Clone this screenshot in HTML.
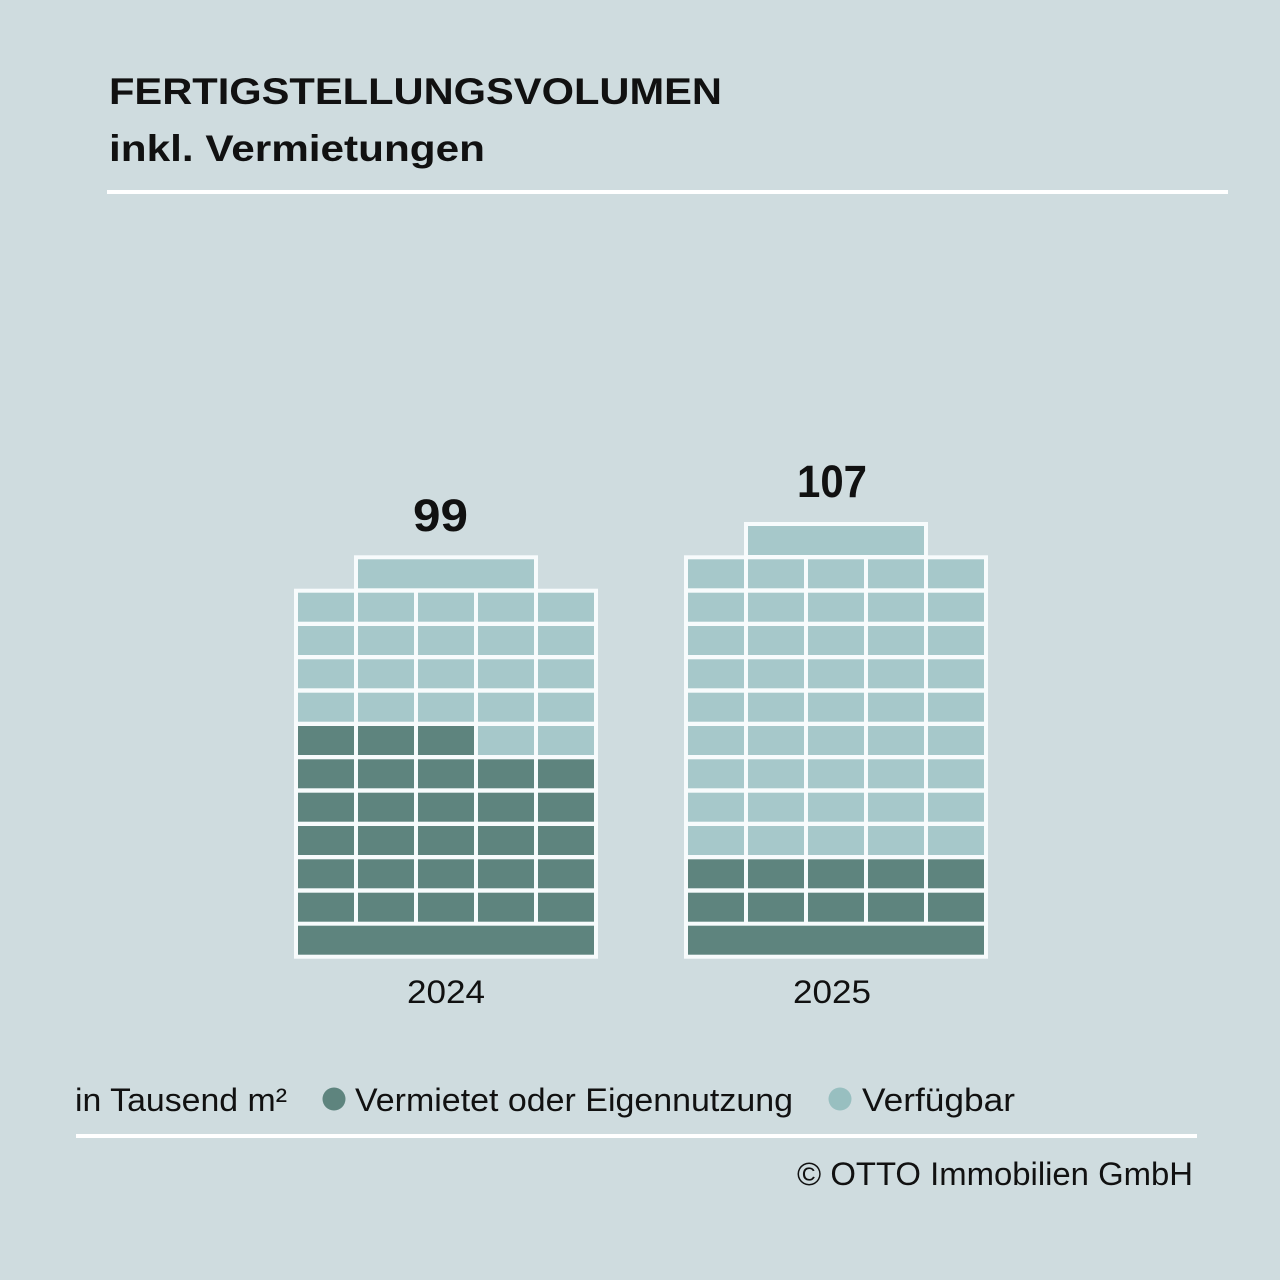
<!DOCTYPE html>
<html>
<head>
<meta charset="utf-8">
<style>
  html, body { margin: 0; padding: 0; background: #cfdcdf; }
  svg { display: block; }
  text { font-family: "Liberation Sans", "DejaVu Sans", sans-serif; fill: #111; }
</style>
</head>
<body>
<svg width="1280" height="1280" viewBox="0 0 1280 1280" xmlns="http://www.w3.org/2000/svg">
  <rect x="0" y="0" width="1280" height="1280" fill="#cfdcdf"/>

  <!-- Title -->
  <text x="109" y="104" font-size="37" font-weight="bold" textLength="613" lengthAdjust="spacingAndGlyphs">FERTIGSTELLUNGSVOLUMEN</text>
  <text x="109" y="161" font-size="37" font-weight="bold" textLength="376" lengthAdjust="spacingAndGlyphs">inkl. Vermietungen</text>
  <rect x="107" y="190" width="1121" height="4" fill="#ffffff"/>

  <!-- Building 2024 -->
  <g>
    <rect x="294" y="588.7" width="304" height="370" fill="#f7fbfc"/>
    <rect x="354" y="555.3" width="184" height="40" fill="#f7fbfc"/>
    <rect x="358" y="559.3" width="176" height="29" fill="#a6c8ca"/>
    <g fill="#a6c8ca">
      <rect x="298" y="592.7" width="56" height="29"/><rect x="358" y="592.7" width="56" height="29"/><rect x="418" y="592.7" width="56" height="29"/><rect x="478" y="592.7" width="56" height="29"/><rect x="538" y="592.7" width="56" height="29"/>
      <rect x="298" y="626" width="56" height="29"/><rect x="358" y="626" width="56" height="29"/><rect x="418" y="626" width="56" height="29"/><rect x="478" y="626" width="56" height="29"/><rect x="538" y="626" width="56" height="29"/>
      <rect x="298" y="659.3" width="56" height="29"/><rect x="358" y="659.3" width="56" height="29"/><rect x="418" y="659.3" width="56" height="29"/><rect x="478" y="659.3" width="56" height="29"/><rect x="538" y="659.3" width="56" height="29"/>
      <rect x="298" y="692.7" width="56" height="29"/><rect x="358" y="692.7" width="56" height="29"/><rect x="418" y="692.7" width="56" height="29"/><rect x="478" y="692.7" width="56" height="29"/><rect x="538" y="692.7" width="56" height="29"/>
      <rect x="478" y="726" width="56" height="29"/><rect x="538" y="726" width="56" height="29"/>
    </g>
    <g fill="#5e847e">
      <rect x="298" y="726" width="56" height="29"/><rect x="358" y="726" width="56" height="29"/><rect x="418" y="726" width="56" height="29"/>
      <rect x="298" y="759.3" width="56" height="29"/><rect x="358" y="759.3" width="56" height="29"/><rect x="418" y="759.3" width="56" height="29"/><rect x="478" y="759.3" width="56" height="29"/><rect x="538" y="759.3" width="56" height="29"/>
      <rect x="298" y="792.7" width="56" height="29"/><rect x="358" y="792.7" width="56" height="29"/><rect x="418" y="792.7" width="56" height="29"/><rect x="478" y="792.7" width="56" height="29"/><rect x="538" y="792.7" width="56" height="29"/>
      <rect x="298" y="826" width="56" height="29"/><rect x="358" y="826" width="56" height="29"/><rect x="418" y="826" width="56" height="29"/><rect x="478" y="826" width="56" height="29"/><rect x="538" y="826" width="56" height="29"/>
      <rect x="298" y="859.3" width="56" height="29"/><rect x="358" y="859.3" width="56" height="29"/><rect x="418" y="859.3" width="56" height="29"/><rect x="478" y="859.3" width="56" height="29"/><rect x="538" y="859.3" width="56" height="29"/>
      <rect x="298" y="892.7" width="56" height="29"/><rect x="358" y="892.7" width="56" height="29"/><rect x="418" y="892.7" width="56" height="29"/><rect x="478" y="892.7" width="56" height="29"/><rect x="538" y="892.7" width="56" height="29"/>
      <rect x="298" y="925.7" width="296" height="29"/>
    </g>
  </g>

  <!-- Building 2025 -->
  <g>
    <rect x="684" y="555.3" width="304" height="403.4" fill="#f7fbfc"/>
    <rect x="744" y="522" width="184" height="40" fill="#f7fbfc"/>
    <rect x="748" y="526" width="176" height="29" fill="#a6c8ca"/>
    <g fill="#a6c8ca">
      <rect x="688" y="559.3" width="56" height="29"/><rect x="748" y="559.3" width="56" height="29"/><rect x="808" y="559.3" width="56" height="29"/><rect x="868" y="559.3" width="56" height="29"/><rect x="928" y="559.3" width="56" height="29"/>
      <rect x="688" y="592.7" width="56" height="29"/><rect x="748" y="592.7" width="56" height="29"/><rect x="808" y="592.7" width="56" height="29"/><rect x="868" y="592.7" width="56" height="29"/><rect x="928" y="592.7" width="56" height="29"/>
      <rect x="688" y="626" width="56" height="29"/><rect x="748" y="626" width="56" height="29"/><rect x="808" y="626" width="56" height="29"/><rect x="868" y="626" width="56" height="29"/><rect x="928" y="626" width="56" height="29"/>
      <rect x="688" y="659.3" width="56" height="29"/><rect x="748" y="659.3" width="56" height="29"/><rect x="808" y="659.3" width="56" height="29"/><rect x="868" y="659.3" width="56" height="29"/><rect x="928" y="659.3" width="56" height="29"/>
      <rect x="688" y="692.7" width="56" height="29"/><rect x="748" y="692.7" width="56" height="29"/><rect x="808" y="692.7" width="56" height="29"/><rect x="868" y="692.7" width="56" height="29"/><rect x="928" y="692.7" width="56" height="29"/>
      <rect x="688" y="726" width="56" height="29"/><rect x="748" y="726" width="56" height="29"/><rect x="808" y="726" width="56" height="29"/><rect x="868" y="726" width="56" height="29"/><rect x="928" y="726" width="56" height="29"/>
      <rect x="688" y="759.3" width="56" height="29"/><rect x="748" y="759.3" width="56" height="29"/><rect x="808" y="759.3" width="56" height="29"/><rect x="868" y="759.3" width="56" height="29"/><rect x="928" y="759.3" width="56" height="29"/>
      <rect x="688" y="792.7" width="56" height="29"/><rect x="748" y="792.7" width="56" height="29"/><rect x="808" y="792.7" width="56" height="29"/><rect x="868" y="792.7" width="56" height="29"/><rect x="928" y="792.7" width="56" height="29"/>
      <rect x="688" y="826" width="56" height="29"/><rect x="748" y="826" width="56" height="29"/><rect x="808" y="826" width="56" height="29"/><rect x="868" y="826" width="56" height="29"/><rect x="928" y="826" width="56" height="29"/>
    </g>
    <g fill="#5e847e">
      <rect x="688" y="859.3" width="56" height="29"/><rect x="748" y="859.3" width="56" height="29"/><rect x="808" y="859.3" width="56" height="29"/><rect x="868" y="859.3" width="56" height="29"/><rect x="928" y="859.3" width="56" height="29"/>
      <rect x="688" y="892.7" width="56" height="29"/><rect x="748" y="892.7" width="56" height="29"/><rect x="808" y="892.7" width="56" height="29"/><rect x="868" y="892.7" width="56" height="29"/><rect x="928" y="892.7" width="56" height="29"/>
      <rect x="688" y="925.7" width="296" height="29"/>
    </g>
  </g>

  <!-- Values -->
  <text x="413" y="531" font-size="45" font-weight="bold" textLength="55" lengthAdjust="spacingAndGlyphs">99</text>
  <text x="797" y="497" font-size="45" font-weight="bold" textLength="70" lengthAdjust="spacingAndGlyphs">107</text>

  <!-- Year labels -->
  <text x="407" y="1003" font-size="32" textLength="78" lengthAdjust="spacingAndGlyphs">2024</text>
  <text x="793" y="1003" font-size="32" textLength="78" lengthAdjust="spacingAndGlyphs">2025</text>

  <!-- Legend -->
  <text x="75" y="1111" font-size="32" textLength="212" lengthAdjust="spacingAndGlyphs">in Tausend m²</text>
  <circle cx="334" cy="1099" r="11.5" fill="#5e847e"/>
  <text x="355" y="1111" font-size="32" textLength="438" lengthAdjust="spacingAndGlyphs">Vermietet oder Eigennutzung</text>
  <circle cx="840" cy="1099" r="11.5" fill="#98bfc0"/>
  <text x="862" y="1111" font-size="32" textLength="153" lengthAdjust="spacingAndGlyphs">Verfügbar</text>

  <rect x="76" y="1134" width="1121" height="4" fill="#ffffff"/>

  <text x="797" y="1185" font-size="32" textLength="396" lengthAdjust="spacingAndGlyphs">© OTTO Immobilien GmbH</text>
</svg>
</body>
</html>
